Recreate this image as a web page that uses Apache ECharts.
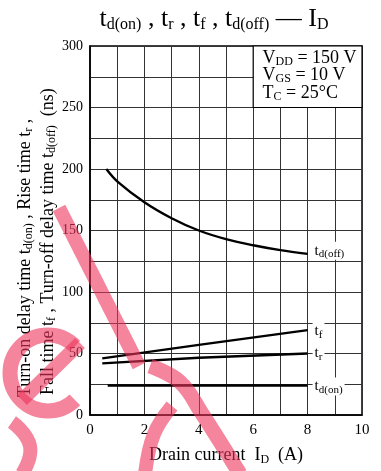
<!DOCTYPE html>
<html>
<head>
<meta charset="utf-8">
<script src="https://cdn.jsdelivr.net/npm/echarts@6/dist/echarts.min.js"></script>
<style>
  html, body { margin: 0; padding: 0; background: #fff; }
  #chart { width: 381px; height: 471px; }
</style>
</head>
<body>
<div id="chart"></div>
<script>
// Switching times vs drain current (VDD = 150 V, VGS = 10 V, TC = 25 °C)
const currentTicks = [0, 2, 4, 6, 8, 10];
const timeTicks = [0, 50, 100, 150, 200, 250, 300];

const tdOffCurrent = [0.6, 1, 2, 3, 4, 5, 6, 7, 8];
const tdOffTime    = [200, 190, 173, 160, 150, 143, 138, 134, 131];

const tfCurrent = [0.45, 4, 8];
const tfTime    = [46, 57, 69];

const trCurrent = [0.45, 4, 8];
const trTime    = [42, 46.5, 50];

const tdOnCurrent = [0.65, 4, 8];
const tdOnTime    = [24, 24, 24];

const conditions = [['V', 'DD', ' = 150 V'], ['V', 'GS', ' = 10 V'], ['T', 'C', ' = 25°C']];

const SERIF = '"Liberation Serif", "DejaVu Serif", serif';

function pairs(xs, ys) { return xs.map((x, i) => [x, ys[i]]); }

function subRich(main, sub, shift) {
  return {
    m: { fontFamily: SERIF, fontSize: main, fontWeight: 'normal', color: '#000' },
    s: { fontFamily: SERIF, fontSize: sub, fontWeight: 'normal', color: '#000', padding: [shift, 0, 0, 0] }
  };
}

function endLabel(sub, dy) {
  return {
    show: true,
    formatter: '{m|t}{s|' + sub + '}',
    rich: subRich(15, 11, 7),
    backgroundColor: '#fff',
    padding: [0, 2, 0, 2],
    distance: 5,
    offset: [0, dy]
  };
}

const lineStyle = { color: '#000', width: 2.4 };

const chart = echarts.init(document.getElementById('chart'));

const condText = conditions.map(c => '{m|' + c[0] + '}{s|' + c[1] + '}{m|' + c[2] + '}').join('\n');

// Watermark strokes over the plot
const wm = 'rgba(236, 52, 90, 0.6)';
const watermark = [
  { type: 'arc', z: 100, silent: true,
    shape: { cx: 48, cy: 373, r: 38, startAngle: Math.PI * 0.25, endAngle: Math.PI * 1.75, clockwise: true },
    style: { stroke: wm, lineWidth: 15, fill: null } },
  { type: 'line', z: 100, silent: true,
    shape: { x1: 80, y1: 343, x2: 22, y2: 400 },
    style: { stroke: wm, lineWidth: 14 } },
  { type: 'line', z: 100, silent: true,
    shape: { x1: 59, y1: 208, x2: 139, y2: 366 },
    style: { stroke: wm, lineWidth: 14 } },
  { type: 'polyline', z: 100, silent: true,
    shape: { points: [[150, 366], [180, 382], [201, 412], [240, 474]], smooth: 0.4 },
    style: { stroke: wm, lineWidth: 15, fill: null } },
  { type: 'polyline', z: 100, silent: true,
    shape: { points: [[172, 406], [154, 434], [145, 474]], smooth: 0.4 },
    style: { stroke: wm, lineWidth: 14, fill: null } },
  { type: 'polyline', z: 100, silent: true,
    shape: { points: [[12, 422], [30, 446], [22, 474]], smooth: 0.5 },
    style: { stroke: wm, lineWidth: 14, fill: null } }
];

const titleText = '{m|t}{s|d(on)}{m| , t}{s|r}{m| , t}{s|f}{m| , t}{s|d(off)}{m| — I}{s|D}';
const yName1 = '{m|Turn-on delay time t}{s|d(on)}{m| , Rise time t}{s|r}{m| ,}';
const yName2 = '{m|Fall time t}{s|f}{m| , Turn-off delay time t}{s|d(off)}{m|  (ns)}';

chart.setOption({
  animation: false,
  backgroundColor: '#fff',
  grid: {
    left: 90, top: 46, width: 272, height: 370,
    show: true, borderColor: '#000', borderWidth: 1.5, backgroundColor: 'transparent'
  },
  xAxis: {
    type: 'value', min: 0, max: 10, interval: 1,
    axisLine: { lineStyle: { color: '#000', width: 1.5 } },
    axisTick: { show: false },
    splitLine: { lineStyle: { color: '#333', width: 1 } },
    axisLabel: {
      margin: 8, color: '#000', fontFamily: SERIF, fontSize: 15,
      formatter: v => (currentTicks.indexOf(v) >= 0 ? String(v) : '')
    },
    name: '{m|Drain current  I}{s|D}{m|  (A)}',
    nameLocation: 'middle',
    nameGap: 30,
    nameTextStyle: { rich: subRich(18, 12, 9) }
  },
  yAxis: {
    type: 'value', min: 0, max: 300, interval: 25,
    axisLine: { show: true, lineStyle: { color: '#000', width: 1.5 } },
    axisTick: { show: false },
    splitLine: { lineStyle: { color: '#333', width: 1 } },
    axisLabel: {
      margin: 7, color: '#000', fontFamily: SERIF, fontSize: 14,
      formatter: v => (timeTicks.indexOf(v) >= 0 ? String(v) : '')
    }
  },
  graphic: [
    { type: 'text', x: 214, y: 19,
      style: { text: titleText, rich: subRich(26, 16, 11), align: 'center', verticalAlign: 'middle' } },
    { type: 'text', x: 25, y: 397, rotation: Math.PI / 2,
      style: { text: yName1, rich: subRich(18, 12, 8), align: 'left', verticalAlign: 'middle' } },
    { type: 'text', x: 48, y: 395, rotation: Math.PI / 2,
      style: { text: yName2, rich: subRich(18, 12, 8), align: 'left', verticalAlign: 'middle' } }
  ].concat(watermark),
  series: [
    {
      type: 'line', name: 'td(off)', data: pairs(tdOffCurrent, tdOffTime),
      smooth: 0.35, showSymbol: false, lineStyle: lineStyle,
      endLabel: endLabel('d(off)', -3),
      markArea: {
        silent: true,
        itemStyle: { color: '#fff', borderColor: '#000', borderWidth: 1.2 },
        label: {
          show: true, position: 'insideTopLeft', distance: 0, padding: [4, 0, 0, 10],
          formatter: condText, lineHeight: 17.5,
          rich: {
            m: { fontFamily: SERIF, fontSize: 18, color: '#000', lineHeight: 17.5 },
            s: { fontFamily: SERIF, fontSize: 12, color: '#000', padding: [7, 0, 0, 0] }
          }
        },
        data: [[{ coord: [6, 300] }, { coord: [10, 250] }]]
      }
    },
    {
      type: 'line', name: 'tf', data: pairs(tfCurrent, tfTime),
      showSymbol: false, lineStyle: lineStyle, endLabel: endLabel('f', 1)
    },
    {
      type: 'line', name: 'tr', data: pairs(trCurrent, trTime),
      showSymbol: false, lineStyle: lineStyle, endLabel: endLabel('r', 0)
    },
    {
      type: 'line', name: 'td(on)', data: pairs(tdOnCurrent, tdOnTime),
      showSymbol: false, lineStyle: lineStyle, endLabel: endLabel('d(on)', 1)
    }
  ]
});
</script>
</body>
</html>
